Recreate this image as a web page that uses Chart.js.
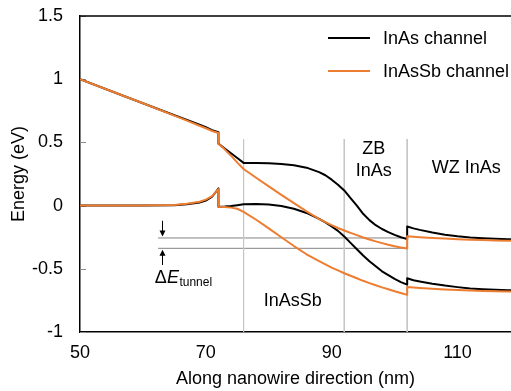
<!DOCTYPE html>
<html><head><meta charset="utf-8">
<script src="https://cdn.jsdelivr.net/npm/chart.js@4.4.0/dist/chart.umd.min.js"></script>
<style>html,body{margin:0;padding:0;background:#fff;}#wrap{width:511px;height:391px;position:relative;}</style>
</head><body><div id="wrap"><canvas id="c"></canvas></div>
<script>
// ---- data ----
const seriesLabels = ['InAs channel', 'InAsSb channel'];
const xGrid = [50, 55, 60, 65, 67, 69, 70, 71, 72, 72, 73, 74, 75, 76, 78, 80, 82, 84, 86, 88, 89, 90, 91, 92, 93, 94, 95, 96, 97, 98, 99, 100, 101, 102, 102, 103, 104, 106, 108, 110, 112, 114, 116, 118, 120];
const cbInAs = [1.00, 0.905, 0.81, 0.715, 0.678, 0.64, 0.62, 0.597, 0.58, 0.49, 0.452, 0.414, 0.376, 0.338, 0.337, 0.335, 0.33, 0.32, 0.30, 0.265, 0.24, 0.205, 0.165, 0.12, 0.06, 0.0, -0.065, -0.115, -0.155, -0.185, -0.21, -0.232, -0.25, -0.265, -0.165, -0.18, -0.192, -0.213, -0.23, -0.243, -0.252, -0.258, -0.263, -0.266, -0.268];
const vbInAs = [0, 0, 0, 0.002, 0.01, 0.025, 0.04, 0.07, 0.135, -0.01, -0.008, -0.004, 0.003, 0.01, 0.012, 0.008, -0.003, -0.025, -0.058, -0.105, -0.133, -0.165, -0.2, -0.245, -0.295, -0.345, -0.395, -0.44, -0.48, -0.52, -0.55, -0.58, -0.605, -0.625, -0.575, -0.59, -0.6, -0.618, -0.633, -0.645, -0.655, -0.661, -0.666, -0.669, -0.671];
const cbInAsSb = [1.00, 0.905, 0.81, 0.712, 0.672, 0.632, 0.612, 0.59, 0.575, 0.49, 0.445, 0.395, 0.34, 0.29, 0.22, 0.152, 0.085, 0.02, -0.045, -0.105, -0.13, -0.155, -0.177, -0.197, -0.216, -0.234, -0.252, -0.268, -0.283, -0.297, -0.31, -0.321, -0.331, -0.34, -0.242, -0.246, -0.25, -0.256, -0.261, -0.266, -0.27, -0.273, -0.276, -0.278, -0.28];
const vbInAsSb = [0, 0, 0, 0.004, 0.014, 0.03, 0.047, 0.075, 0.13, -0.01, -0.012, -0.016, -0.025, -0.05, -0.112, -0.18, -0.25, -0.32, -0.385, -0.44, -0.465, -0.49, -0.513, -0.535, -0.555, -0.575, -0.595, -0.613, -0.63, -0.647, -0.662, -0.677, -0.692, -0.706, -0.644, -0.648, -0.652, -0.658, -0.664, -0.668, -0.672, -0.675, -0.678, -0.68, -0.682];
const xTicks = [50, 70, 90, 110];
const yTicks = [-1, -0.5, 0, 0.5, 1, 1.5];
const boundaryX = [76, 92, 102];
const boundaryY = [0.527, -1];
const tunnelLevels = [-0.256, -0.338];
const tunnelX = [62.4, 102];

// ---- style / layout ----
const FONT = 'Liberation Sans, Arial, Helvetica, sans-serif';
const ORANGE = '#ED7D31';
Chart.defaults.font.family = FONT;
Chart.defaults.color = '#000';

const pts = ys => xGrid.map((xv, i) => ({x: xv, y: ys[i]}));
const curve = (label, ys, color, order) => ({
  label, data: pts(ys), borderColor: color, backgroundColor: color,
  borderWidth: 2, showLine: true, pointRadius: 0, tension: 0, fill: false,
  borderJoinStyle: 'round', order
});
const refLine = (data, color) => ({
  label: '', data, borderColor: color, borderWidth: 1, showLine: true,
  pointRadius: 0, fill: false, order: 5
});

const annotations = {
  texts: [
    {t: 'InAsSb', x: 83.8, y: -0.794},
    {t: 'ZB', x: 96.7, y: 0.408},
    {t: 'InAs', x: 96.7, y: 0.234},
    {t: 'WZ InAs', x: 111.4, y: 0.26}
  ],
  arrowX: 63.1,
  arrows: [[-0.12, -0.256], [-0.47, -0.338]],
  delta: {x: 61.9, y: -0.61}
};

const decor = {
  id: 'decor',
  beforeDatasetsDraw(chart) {
    const {ctx, chartArea: a, scales: {y}} = chart;
    ctx.save();
    ctx.strokeStyle = '#8c8c8c'; ctx.lineWidth = 1;
    yTicks.forEach(v => {
      const py = Math.round(y.getPixelForValue(v)) + 0.5;
      ctx.beginPath(); ctx.moveTo(a.left, py); ctx.lineTo(a.left + 6, py); ctx.stroke();
    });
    ctx.restore();
  },
  afterDatasetsDraw(chart) {
    const {ctx, chartArea: a, scales: {x, y}} = chart;
    ctx.save();
    // top frame line
    ctx.strokeStyle = '#000'; ctx.lineWidth = 1.5;
    ctx.beginPath(); ctx.moveTo(a.left, a.top); ctx.lineTo(a.right, a.top); ctx.stroke();
    // arrows
    const ax = Math.round(x.getPixelForValue(annotations.arrowX)) + 0.5;
    ctx.fillStyle = '#000'; ctx.strokeStyle = '#000'; ctx.lineWidth = 1;
    annotations.arrows.forEach(([from, to]) => {
      const p1 = y.getPixelForValue(from), p2 = y.getPixelForValue(to);
      const dir = Math.sign(p2 - p1);
      const tip = p2 - dir * 1.5;
      ctx.beginPath(); ctx.moveTo(ax, p1); ctx.lineTo(ax, tip - dir * 5); ctx.stroke();
      ctx.beginPath(); ctx.moveTo(ax, tip); ctx.lineTo(ax - 3, tip - dir * 6); ctx.lineTo(ax + 3, tip - dir * 6); ctx.closePath(); ctx.fill();
    });
    // region labels
    ctx.font = '18px ' + FONT; ctx.textAlign = 'center'; ctx.textBaseline = 'alphabetic';
    annotations.texts.forEach(o => ctx.fillText(o.t, x.getPixelForValue(o.x), y.getPixelForValue(o.y)));
    // Delta E tunnel
    let dx = x.getPixelForValue(annotations.delta.x), dy = y.getPixelForValue(annotations.delta.y);
    ctx.textAlign = 'left';
    ctx.font = '18px ' + FONT; ctx.fillText('Δ', dx, dy); dx += ctx.measureText('Δ').width;
    ctx.font = 'italic 18px ' + FONT; ctx.fillText('E', dx, dy); dx += ctx.measureText('E').width + 0.5;
    ctx.font = '12px ' + FONT; ctx.fillText('tunnel', dx, dy + 3);
    // legend
    const leg = [[seriesLabels[0], '#000', 38], [seriesLabels[1], ORANGE, 71]];
    ctx.font = '18px ' + FONT;
    leg.forEach(([t, c, ly]) => {
      ctx.strokeStyle = c; ctx.lineWidth = 2;
      ctx.beginPath(); ctx.moveTo(328, ly); ctx.lineTo(370, ly); ctx.stroke();
      ctx.fillStyle = '#000'; ctx.fillText(t, 383, ly + 6);
    });
    ctx.restore();
  }
};

new Chart(document.getElementById('c'), {
  type: 'scatter',
  data: {
    datasets: [
      curve(seriesLabels[1], cbInAsSb, ORANGE, 1),
      curve(seriesLabels[1], vbInAsSb, ORANGE, 1),
      curve(seriesLabels[0], cbInAs, '#000', 2),
      curve(seriesLabels[0], vbInAs, '#000', 2),
      ...boundaryX.map(bx => refLine(boundaryY.map(v => ({x: bx, y: v})), '#c6c6c6')),
      ...tunnelLevels.map(lv => refLine(tunnelX.map(v => ({x: v, y: lv})), '#858585'))
    ]
  },
  options: {
    responsive: true, maintainAspectRatio: false, animation: false, devicePixelRatio: 1,
    layout: {padding: {top: 16, right: 0, bottom: 0, left: 0}},
    plugins: {legend: {display: false}, tooltip: {enabled: false}},
    scales: {
      x: {
        type: 'linear', min: 50, max: 118.5,
        afterBuildTicks: s => { s.ticks = xTicks.map(v => ({value: v})); },
        afterFit: s => { s.height = 59; s.paddingLeft = 0; s.paddingRight = 0; },
        grid: {display: false, drawTicks: false},
        border: {display: true, color: '#000', width: 1.5},
        ticks: {font: {size: 18}, color: '#000', padding: 10, maxRotation: 0, callback: v => String(v)},
        title: {display: true, text: 'Along nanowire direction (nm)', font: {size: 18}, color: '#000', padding: {top: 0, bottom: 1}}
      },
      y: {
        type: 'linear', min: -1, max: 1.5,
        afterBuildTicks: s => { s.ticks = yTicks.map(v => ({value: v})); },
        afterFit: s => { s.width = 80; s.paddingTop = 0; s.paddingBottom = 0; },
        grid: {display: false, drawTicks: false},
        border: {display: true, color: '#000', width: 1.5},
        ticks: {font: {size: 18}, color: '#000', padding: 17, callback: v => String(v)},
        title: {display: true, text: 'Energy (eV)', font: {size: 18}, color: '#000', padding: {top: 8, bottom: 0}}
      }
    }
  },
  plugins: [decor]
});
</script></body></html>
